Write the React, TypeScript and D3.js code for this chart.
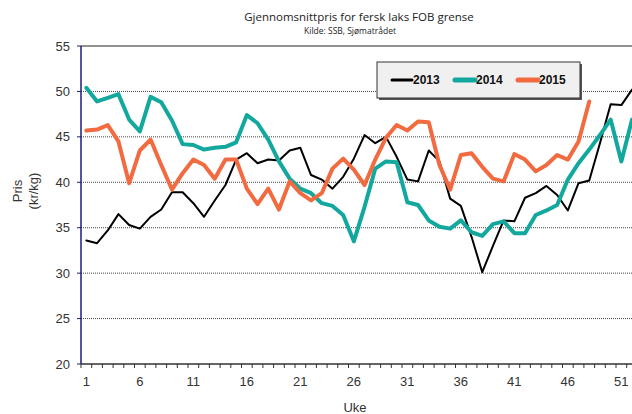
import React from 'react';
import * as d3 from 'd3';

const weeks = d3.range(1, 53);
const xLabels = [1, 6, 11, 16, 21, 26, 31, 36, 41, 46, 51];
const yTicks = [20, 25, 30, 35, 40, 45, 50, 55];

const prices2013 = [33.6, 33.3, 34.7, 36.5, 35.3, 34.9, 36.2, 37.0, 38.9, 38.9, 37.7, 36.2, 38.0, 39.7, 42.5, 43.2, 42.1, 42.5, 42.4, 43.5, 43.8, 40.8, 40.3, 39.3, 40.6, 42.6, 45.2, 44.3, 45.0, 42.8, 40.3, 40.1, 43.5, 42.3, 38.2, 37.4, 34.0, 30.1, 33.0, 35.8, 35.7, 38.3, 38.8, 39.6, 38.6, 36.9, 39.9, 40.2, 44.3, 48.6, 48.5, 50.2];
const prices2014 = [50.4, 48.9, 49.3, 49.7, 46.9, 45.6, 49.4, 48.8, 46.8, 44.2, 44.1, 43.6, 43.8, 43.9, 44.4, 47.4, 46.5, 44.7, 42.3, 40.4, 39.3, 38.8, 37.7, 37.4, 36.4, 33.5, 37.3, 41.5, 42.3, 42.2, 37.8, 37.5, 35.8, 35.1, 34.9, 35.8, 34.5, 34.1, 35.4, 35.7, 34.4, 34.4, 36.4, 36.9, 37.5, 40.3, 42.1, 43.6, 45.2, 46.9, 42.3, 46.9];
const prices2015 = [45.7, 45.8, 46.3, 44.5, 39.9, 43.5, 44.7, 41.9, 39.2, 41.0, 42.5, 41.9, 40.4, 42.5, 42.5, 39.3, 37.6, 39.3, 37.0, 40.1, 38.8, 38.0, 38.8, 41.5, 42.6, 41.4, 39.7, 42.5, 44.9, 46.3, 45.7, 46.7, 46.6, 41.9, 39.2, 43.0, 43.2, 41.7, 40.4, 40.1, 43.1, 42.5, 41.2, 41.9, 43.0, 42.5, 44.5, 48.9];

const series = [
  { name: '2013', values: prices2013, color: '#000000', width: 2, legendWidth: 3 },
  { name: '2014', values: prices2014, color: '#13a89e', width: 4, legendWidth: 5 },
  { name: '2015', values: prices2015, color: '#f26a40', width: 4, legendWidth: 5 },
];

const W = 632;
const H = 414;
const left = 81;
const step = 10.7;
const top = 46;
const bottom = 364;

export default function App() {
  // kategori-akse som i Excel: ukene midt i hvert felt
  const x = d3.scaleLinear().domain([0.5, 52.5]).range([left, left + 52 * step]);
  const y = d3.scaleLinear().domain([20, 55]).range([bottom, top]);

  const line = d3.line<number>()
    .x((_, i) => x(weeks[i]))
    .y(d => y(d));

  const boundaries = d3.range(0, 53).map(i => i + 0.5);

  return (
    <svg width={W} height={H} style={{ position: 'absolute', left: 0, top: 0, background: '#fff' }}
      fontFamily="'Liberation Sans', Arial, sans-serif">
      <text x={359} y={21} textAnchor="middle" fontFamily="'Open Sans', sans-serif" fontSize={11.5} fill="#222">
        Gjennomsnittpris for fersk laks FOB grense
      </text>
      <text x={350} y={34} textAnchor="middle" fontFamily="'Open Sans', sans-serif" fontSize={8.5} fill="#222">
        Kilde: SSB, Sjømatrådet
      </text>

      {/* rutenett */}
      {yTicks.filter(t => t > 20 && t < 55).map(t => (
        <line key={t} x1={left} x2={W} y1={y(t)} y2={y(t)} stroke="#444" strokeWidth={1} strokeDasharray="1,1" />
      ))}
      <line x1={left} x2={W} y1={y(55)} y2={y(55)} stroke="#222" strokeWidth={1.2} />

      {/* y-akse */}
      {yTicks.map(t => (
        <g key={t}>
          <line x1={left - 4} x2={left} y1={y(t)} y2={y(t)} stroke="#1c1c7c" />
          <text x={70} y={y(t)} dy="0.35em" textAnchor="end" fontSize={13} fill="#333">{t}</text>
        </g>
      ))}

      {/* x-akse */}
      <line x1={left} x2={W} y1={bottom} y2={bottom} stroke="#333" strokeWidth={1.5} />
      {boundaries.map(b => (
        <line key={b} x1={x(b)} x2={x(b)} y1={bottom} y2={bottom + 4} stroke="#333" />
      ))}
      {xLabels.map(w => (
        <text key={w} x={x(w)} y={386} textAnchor="middle" fontSize={13} fill="#333">{w}</text>
      ))}
      <line x1={left} x2={left} y1={top} y2={bottom} stroke="#1c1c7c" strokeWidth={1.5} />

      <text x={355} y={412} textAnchor="middle" fontSize={13} fill="#333">Uke</text>
      <text transform="translate(22,191) rotate(-90)" textAnchor="middle" fontSize={13} fill="#333">Pris</text>
      <text transform="translate(38,191) rotate(-90)" textAnchor="middle" fontSize={13} fill="#333">(kr/kg)</text>

      {/* linjer */}
      {series.map(s => (
        <path key={s.name} d={line(s.values) || ''} fill="none" stroke={s.color} strokeWidth={s.width}
          strokeLinejoin="round" strokeLinecap="round" />
      ))}

      {/* tegnforklaring */}
      <rect x={379} y={64} width={203} height={36} fill="#555" />
      <rect x={377} y={62} width={203} height={36} fill="#f0f0f0" stroke="#333" strokeWidth={1} />
      {series.map((s, i) => {
        const lx = 392 + i * 63;
        return (
          <g key={s.name}>
            <line x1={lx} x2={lx + 20} y1={80} y2={80} stroke={s.color} strokeWidth={s.legendWidth} strokeLinecap="round" />
            <text x={lx + 21} y={80} dy="0.36em" fontSize={12} fontWeight="bold" fill="#111">{s.name}</text>
          </g>
        );
      })}
    </svg>
  );
}
